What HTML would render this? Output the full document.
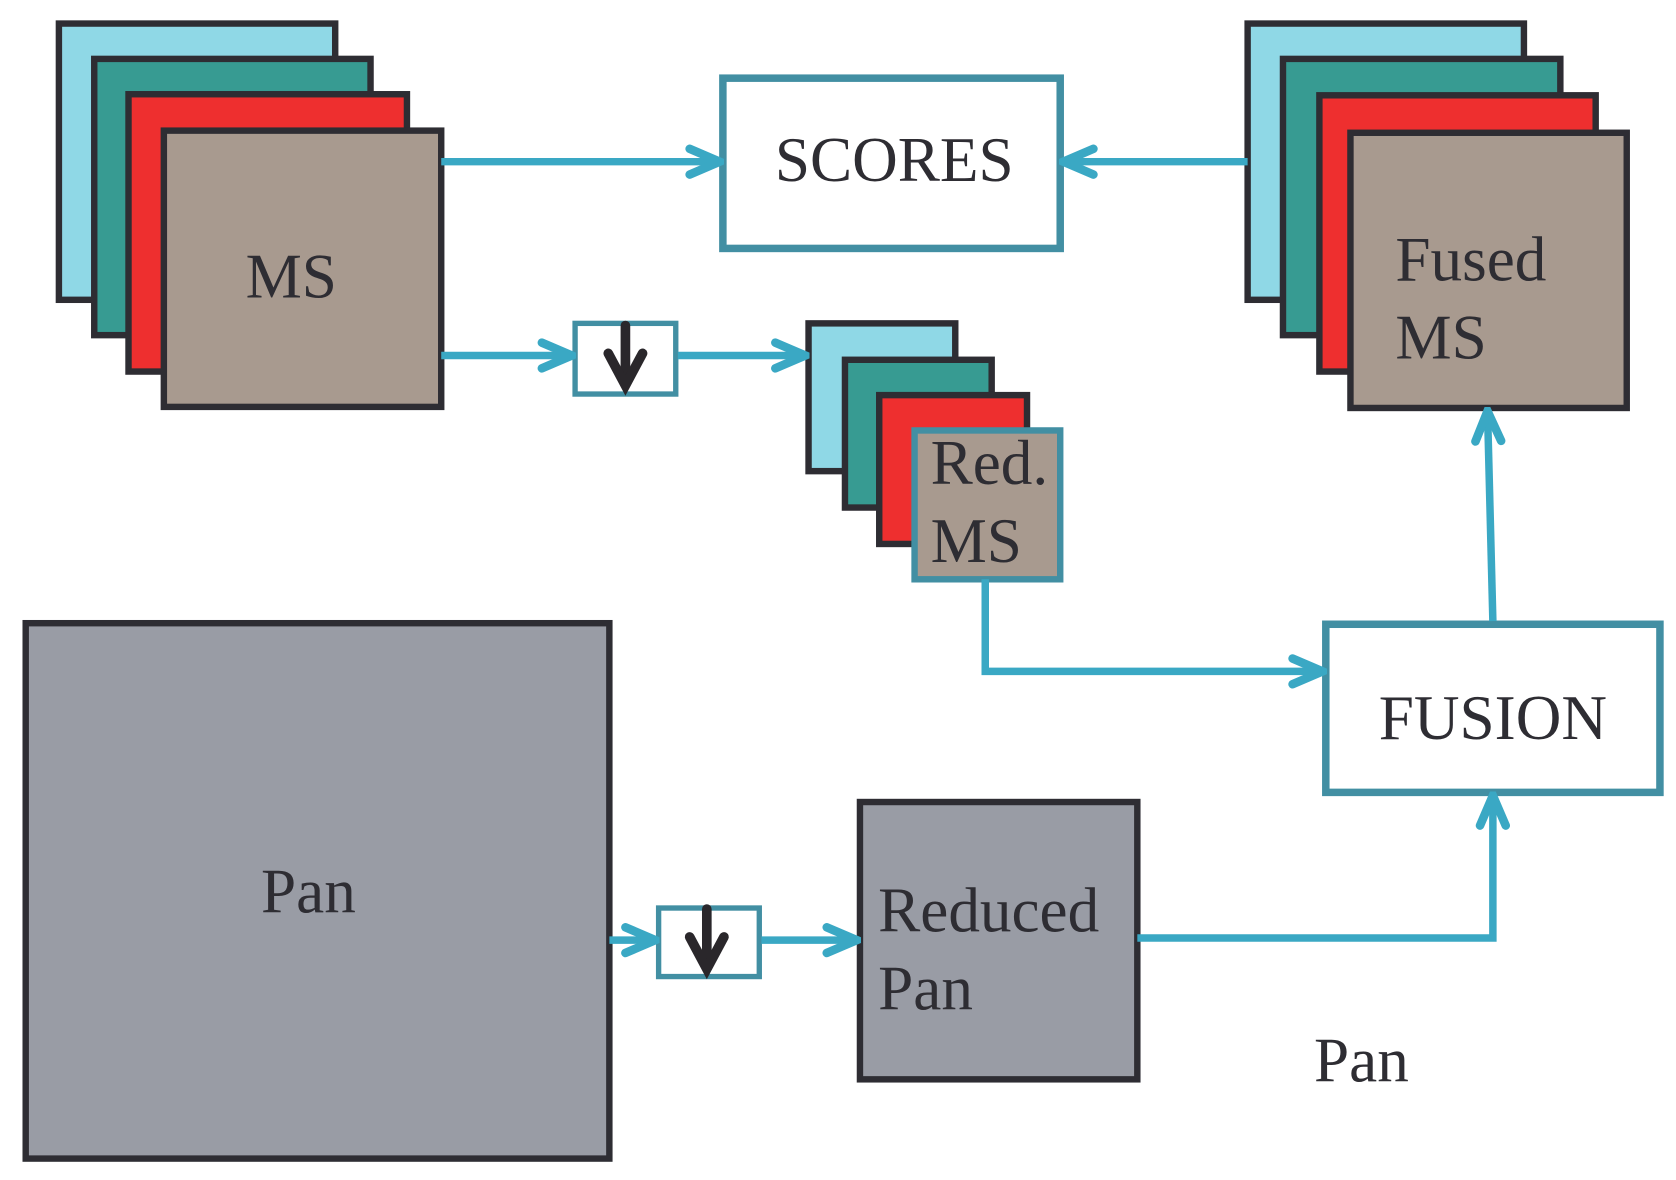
<!DOCTYPE html>
<html><head><meta charset="utf-8"><style>html,body{margin:0;padding:0;background:#fff}svg{display:block}</style></head>
<body>
<svg width="1676" height="1180" viewBox="0 0 1565 1102" preserveAspectRatio="none" xmlns="http://www.w3.org/2000/svg">
<defs>
<marker id="ah" viewBox="0 0 40 40" refX="36" refY="20" markerWidth="40" markerHeight="40" markerUnits="userSpaceOnUse" orient="auto">
<path d="M8 8 L36 20 L8 32" fill="none" stroke="#3aa8c4" stroke-width="8" stroke-linecap="round" stroke-linejoin="miter"/>
</marker>
</defs>
<g stroke="#2e2d33" stroke-width="6">
<rect x="55" y="22" width="258" height="258" fill="#8fd8e6"/>
<rect x="88" y="55" width="258" height="258" fill="#379b92"/>
<rect x="120" y="88" width="260" height="259" fill="#ee2f2f"/>
<rect x="153" y="122" width="259" height="258" fill="#a89a8f"/>
<rect x="1165" y="22" width="258" height="258" fill="#8fd8e6"/>
<rect x="1198" y="55" width="259" height="258" fill="#379b92"/>
<rect x="1232" y="89" width="258" height="258" fill="#ee2f2f"/>
<rect x="1261" y="124" width="258" height="257" fill="#a89a8f"/>
<rect x="755" y="302" width="137" height="138" fill="#8fd8e6"/>
<rect x="789" y="336" width="137" height="138" fill="#379b92"/>
<rect x="821" y="369" width="138" height="139" fill="#ee2f2f"/>
<rect x="24" y="582" width="545" height="500" fill="#999ca5"/>
<rect x="803" y="749" width="259" height="259" fill="#999ca5"/>
</g>
<rect x="854" y="402" width="136" height="139" fill="#a89a8f" stroke="#428fa3" stroke-width="6"/>
<g fill="#fff" stroke="#428fa3" stroke-width="7">
<rect x="675" y="73" width="315" height="159"/>
<rect x="1238" y="583" width="312" height="157"/>
<rect x="537" y="302" width="94" height="66" stroke-width="5"/>
<rect x="615" y="848" width="94" height="64" stroke-width="5"/>
</g>
<g stroke="#3aa8c4" stroke-width="7" fill="none" marker-end="url(#ah)">
<line x1="412" y1="151" x2="672" y2="151"/>
<line x1="1165" y1="151" x2="993" y2="151"/>
<line x1="412" y1="332" x2="534" y2="332"/>
<line x1="633" y1="332" x2="752" y2="332"/>
<polyline points="920,541 920,627 1235,627"/>
<line x1="1394" y1="580" x2="1389" y2="384"/>
<line x1="569" y1="878" x2="612" y2="878"/>
<line x1="711" y1="878" x2="800" y2="878"/>
<polyline points="1062,876 1394,876 1394,743"/>
</g>
<g stroke="#2a272b" stroke-width="9" fill="none" stroke-linecap="round">
<line x1="584" y1="304" x2="584" y2="358"/>
<path d="M568 330 L584 360 L600 330"/>
<line x1="660" y1="849" x2="660" y2="903"/>
<path d="M644 875 L660 905 L676 875"/>
</g>
<g font-family="Liberation Serif, serif" font-size="59" fill="#2e2d33">
<text x="272" y="278" text-anchor="middle">MS</text>
<text x="835" y="169" text-anchor="middle">SCORES</text>
<text x="1303" y="262">Fused</text>
<text x="1303" y="335">MS</text>
<text x="869" y="452">Red.</text>
<text x="869" y="525">MS</text>
<text x="1394" y="690" text-anchor="middle">FUSION</text>
<text x="288" y="852" text-anchor="middle">Pan</text>
<text x="820" y="870">Reduced</text>
<text x="820" y="943">Pan</text>
<text x="1227" y="1010">Pan</text>
</g>
</svg>
</body></html>
